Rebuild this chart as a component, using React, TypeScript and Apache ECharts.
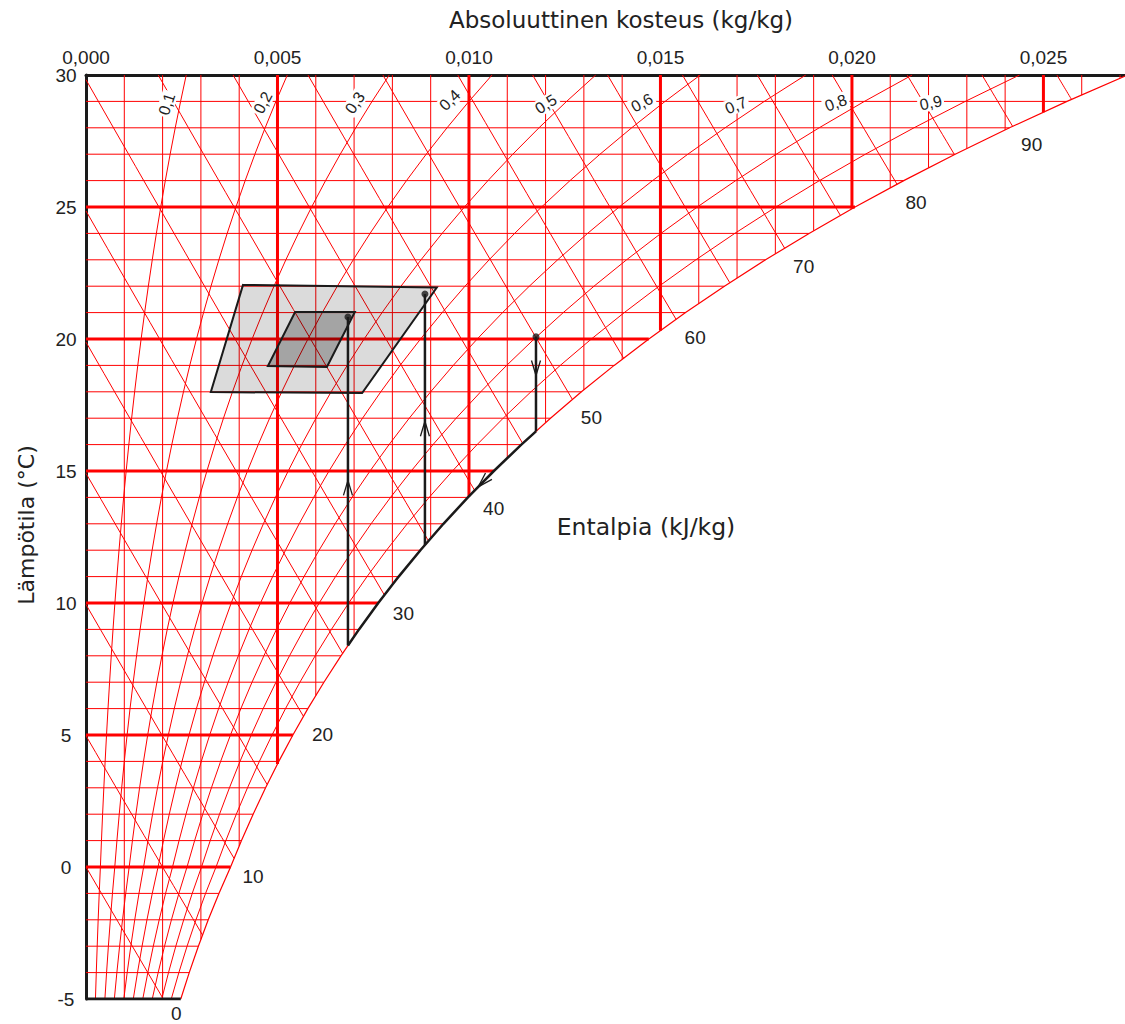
import React, { useEffect, useRef } from "react";
import * as echarts from "echarts";

// ---------- data ----------
const PRESSURE_KPA = 101.325;
const SAT_TEMPS = [-5, -4, -3, -2, -1, 0, 1, 2, 3, 4, 5, 6, 7, 8, 9, 10, 11, 12, 13, 14, 15, 16, 17, 18, 19, 20, 21, 22, 23, 24, 25, 26, 27, 28, 29, 30];
const SAT_PRESSURES = [0.4015, 0.4372, 0.4757, 0.5173, 0.5623, 0.6112, 0.6571, 0.706, 0.7581, 0.8135, 0.8725, 0.935, 1.002, 1.0729, 1.1481, 1.228, 1.3128, 1.4027, 1.4979, 1.5988, 1.7056, 1.8185, 1.938, 2.0644, 2.1978, 2.3388, 2.4877, 2.6447, 2.8104, 2.985, 3.169, 3.3629, 3.567, 3.7818, 4.0078, 4.2455];

const TEMP_GRID = [-4, -3, -2, -1, 0, 1, 2, 3, 4, 5, 6, 7, 8, 9, 10, 11, 12, 13, 14, 15, 16, 17, 18, 19, 20, 21, 22, 23, 24, 25, 26, 27, 28, 29];
const TEMP_BOLD = [0, 5, 10, 15, 20, 25];
const HUMIDITY_GRID = [0.001, 0.002, 0.003, 0.004, 0.005, 0.006, 0.007, 0.008, 0.009, 0.01, 0.011, 0.012, 0.013, 0.014, 0.015, 0.016, 0.017, 0.018, 0.019, 0.02, 0.021, 0.022, 0.023, 0.024, 0.025, 0.026, 0.027];
const HUMIDITY_BOLD = [0.005, 0.01, 0.015, 0.02, 0.025];
const ENTHALPY_LINES = [0, 5, 10, 15, 20, 25, 30, 35, 40, 45, 50, 55, 60, 65, 70, 75, 80, 85, 90, 95];
const ENTHALPY_LABELS = [0, 10, 20, 30, 40, 50, 60, 70, 80, 90];
const RH_LINES = [0.1, 0.2, 0.3, 0.4, 0.5, 0.6, 0.7, 0.8, 0.9];
const RH_LABEL_TEXT = ["0,1", "0,2", "0,3", "0,4", "0,5", "0,6", "0,7", "0,8", "0,9"];
const RH_LABEL_X = [0.00211, 0.00462, 0.00702, 0.0095, 0.01201, 0.01452, 0.01697, 0.01958, 0.02206];
const RH_LABEL_T = [28.9, 28.95, 28.95, 29.05, 28.9, 28.95, 28.85, 28.95, 28.95];

const OUTER_ZONE = [[0.0041, 22.05], [0.00916, 21.95], [0.00721, 17.95], [0.00326, 17.99]];
const INNER_ZONE = [[0.00546, 21.02], [0.00702, 21.02], [0.00629, 18.94], [0.00475, 18.98]];
const PROCESS_POINTS = [[0.00684, 20.83], [0.00885, 21.7], [0.01175, 20.08]];

const ARROW_X = [0.00684, 0.00885, 0.01175, NaN];
const ARROW_T = [14.36, 16.6, 18.9, 14.6];
const ARROW_DIR = [1, 1, -1, -1];
const ARROW_ON = ["v", "v", "v", "sat"];

// ---------- styling ----------
const RED = "#ff0000";
const INK = "#1a1a1a";
const TEXT = "#222222";
const RH_LABEL_ROT = [72, 62, 56, 45, 33, 28, 22, 20, 12];

// ---------- helpers ----------
const humidity = (pv: number) => (0.622 * pv) / (PRESSURE_KPA - pv);
const SAT_X = SAT_PRESSURES.map(humidity);

function satTemp(x: number): number {
  if (x <= SAT_X[0]) return SAT_TEMPS[0];
  for (let i = 0; i < SAT_X.length - 1; i++) {
    if (x <= SAT_X[i + 1]) {
      const f = (x - SAT_X[i]) / (SAT_X[i + 1] - SAT_X[i]);
      return SAT_TEMPS[i] + f * (SAT_TEMPS[i + 1] - SAT_TEMPS[i]);
    }
  }
  const n = SAT_X.length - 1;
  return SAT_TEMPS[n] + (x - SAT_X[n]) / (SAT_X[n] - SAT_X[n - 1]);
}

function satHumidityAt(t: number): number {
  const i = Math.max(0, Math.min(SAT_TEMPS.length - 2, Math.floor(t - SAT_TEMPS[0])));
  const f = (t - SAT_TEMPS[i]) / (SAT_TEMPS[i + 1] - SAT_TEMPS[i]);
  return SAT_X[i] + f * (SAT_X[i + 1] - SAT_X[i]);
}

const tOnEnthalpy = (h: number, x: number) => (h - 2501 * x) / (1.006 + 1.86 * x);

function enthalpyLine(h: number): number[][] {
  let x0 = 0;
  let t0 = tOnEnthalpy(h, 0);
  if (t0 > 30) {
    x0 = (h - 1.006 * 30) / (2501 + 1.86 * 30);
    t0 = 30;
  }
  const g = (x: number) => tOnEnthalpy(h, x) - Math.max(satTemp(x), -5);
  let lo = x0;
  let hi = 0.03;
  for (let k = 0; k < 60; k++) {
    const mid = (lo + hi) / 2;
    if (g(mid) > 0) lo = mid;
    else hi = mid;
  }
  const pts: number[][] = [];
  const n = 12;
  for (let i = 0; i <= n; i++) {
    const x = x0 + ((lo - x0) * i) / n;
    pts.push([x, i === 0 ? t0 : tOnEnthalpy(h, x)]);
  }
  return pts;
}

function buildOption() {
  const series: any[] = [];
  const addLine = (data: number[][], color: string, width: number, z: number) =>
    series.push({
      type: "line",
      data,
      symbol: "none",
      showSymbol: false,
      silent: true,
      z,
      lineStyle: { color, width },
      animation: false,
    });

  // temperature lines
  TEMP_GRID.forEach((t) => {
    const bold = TEMP_BOLD.includes(t);
    addLine([[0, t], [satHumidityAt(t), t]], RED, bold ? 3 : 1, bold ? 3 : 2);
  });
  // humidity lines
  HUMIDITY_GRID.forEach((x) => {
    const bold = HUMIDITY_BOLD.some((b) => Math.abs(b - x) < 1e-9);
    addLine([[x, Math.max(satTemp(x), -5)], [x, 30]], RED, bold ? 3 : 1, bold ? 3 : 2);
  });
  // enthalpy lines
  ENTHALPY_LINES.forEach((h) => addLine(enthalpyLine(h), RED, 1, 2));
  // RH curves
  RH_LINES.forEach((phi) =>
    addLine(SAT_TEMPS.map((T, i) => [humidity(phi * SAT_PRESSURES[i]), T]), RED, 1, 2)
  );
  // saturation curve
  addLine(SAT_TEMPS.map((T, i) => [SAT_X[i], T]), RED, 1.2, 2);

  // bottom edge
  addLine([[0, -5], [SAT_X[0], -5]], INK, 3, 6);

  // process lines
  PROCESS_POINTS.forEach(([x, t]) => addLine([[x, satTemp(x)], [x, t]], INK, 2.5, 6));
  const xa = PROCESS_POINTS[0][0];
  const xb = PROCESS_POINTS[2][0];
  const ta = satTemp(xa);
  const tb = satTemp(xb);
  const segment: number[][] = [[xa, ta]];
  SAT_TEMPS.forEach((T, i) => {
    if (T > ta && T < tb) segment.push([SAT_X[i], T]);
  });
  segment.push([xb, tb]);
  addLine(segment, INK, 2.5, 6);

  // zones
  const zones = [OUTER_ZONE, INNER_ZONE];
  const zoneFill = ["rgba(0,0,0,0.14)", "rgba(0,0,0,0.25)"];
  series.push({
    type: "custom",
    z: 5,
    silent: true,
    clip: false,
    data: zones.map((zn) => zn[0]),
    renderItem: (params: any, api: any) => {
      const zn = zones[params.dataIndex];
      return {
        type: "polygon",
        shape: { points: zn.map((p) => api.coord(p)) },
        style: { fill: zoneFill[params.dataIndex], stroke: INK, lineWidth: 2 },
      };
    },
  });

  // dots
  series.push({
    type: "scatter",
    data: PROCESS_POINTS,
    symbol: "circle",
    symbolSize: 7,
    itemStyle: { color: INK },
    silent: true,
    z: 8,
  });

  // arrows
  const arrowPos = ARROW_T.map((t, i) => [ARROW_ON[i] === "sat" ? satHumidityAt(t) : ARROW_X[i], t]);
  series.push({
    type: "custom",
    z: 8,
    silent: true,
    clip: false,
    data: arrowPos,
    renderItem: (params: any, api: any) => {
      const i = params.dataIndex;
      const [x, t] = arrowPos[i];
      const c = api.coord([x, t]);
      const t2 = t + ARROW_DIR[i] * 0.5;
      const c2 = ARROW_ON[i] === "sat" ? api.coord([satHumidityAt(t2), t2]) : api.coord([x, t2]);
      let ux = c2[0] - c[0];
      let uy = c2[1] - c[1];
      const len = Math.hypot(ux, uy) || 1;
      ux /= len;
      uy /= len;
      const px = -uy;
      const py = ux;
      const tip = [c[0] + ux * 7.5, c[1] + uy * 7.5];
      const bx = c[0] - ux * 7.5;
      const by = c[1] - uy * 7.5;
      return {
        type: "polyline",
        shape: { points: [[bx + px * 4.5, by + py * 4.5], tip, [bx - px * 4.5, by - py * 4.5]] },
        style: { stroke: INK, lineWidth: 1.3, fill: "none" },
      };
    },
  });

  // labels
  type Spec = { pos: number[]; text: string; dx: number; dy: number; rot: number; size: number; bg?: string };
  const specs: Spec[] = [];
  ENTHALPY_LABELS.forEach((h) => {
    const pts = enthalpyLine(h);
    const atBottom = h === 0;
    specs.push({
      pos: pts[pts.length - 1],
      text: String(h),
      dx: atBottom ? 13 : 19,
      dy: atBottom ? 14 : 18,
      rot: 0,
      size: 19,
    });
  });
  RH_LABEL_TEXT.forEach((txt, i) => {
    specs.push({ pos: [RH_LABEL_X[i], RH_LABEL_T[i]], text: txt, dx: 0, dy: 0, rot: RH_LABEL_ROT[i], size: 16, bg: "#ffffff" });
  });
  series.push({
    type: "custom",
    z: 9,
    silent: true,
    clip: false,
    data: specs.map((s) => s.pos),
    renderItem: (params: any, api: any) => {
      const s = specs[params.dataIndex];
      const c = api.coord(s.pos);
      return {
        type: "text",
        x: c[0] + s.dx,
        y: c[1] + s.dy,
        rotation: (s.rot * Math.PI) / 180,
        style: {
          text: s.text,
          fill: TEXT,
          fontSize: s.size,
          fontFamily: "Liberation Sans",
          lineHeight: s.size,
          align: "center",
          verticalAlign: "middle",
          textAlign: "center",
          textVerticalAlign: "middle",
          backgroundColor: s.bg || "transparent",
          padding: s.bg ? [0, 2, 0, 2] : 0,
        },
      };
    },
  });

  const titleStyle = {
    fontFamily: "DejaVu Sans",
    fill: TEXT,
    align: "center",
    verticalAlign: "middle",
    textAlign: "center",
    textVerticalAlign: "middle",
  };

  return {
    animation: false,
    backgroundColor: "#ffffff",
    grid: { left: 86, top: 75, right: 0, bottom: 25, containLabel: false, outerBoundsMode: "none" },
    xAxis: {
      type: "value",
      position: "top",
      min: 0,
      max: 0.02713,
      interval: 0.005,
      axisLine: { show: true, onZero: false, lineStyle: { color: INK, width: 3 } },
      axisTick: { show: false },
      splitLine: { show: false },
      axisLabel: {
        formatter: (v: number) => v.toFixed(3).replace(".", ","),
        fontSize: 19,
        lineHeight: 16,
        fontFamily: "Liberation Sans",
        color: TEXT,
        margin: 10,
        showMaxLabel: false,
      },
    },
    yAxis: {
      type: "value",
      min: -5,
      max: 30,
      interval: 5,
      axisLine: { show: true, onZero: false, lineStyle: { color: INK, width: 3 } },
      axisTick: { show: false },
      splitLine: { show: false },
      axisLabel: {
        fontSize: 19,
        lineHeight: 16,
        fontFamily: "Liberation Sans",
        color: TEXT,
        align: "center",
        margin: 20,
      },
    },
    graphic: [
      { type: "text", x: 621, y: 20, silent: true, style: { ...titleStyle, fontSize: 23, text: "Absoluuttinen kosteus (kg/kg)" } },
      { type: "text", x: 646, y: 527, silent: true, style: { ...titleStyle, fontSize: 23.5, text: "Entalpia (kJ/kg)" } },
      { type: "text", x: 26, y: 525, rotation: Math.PI / 2, silent: true, style: { ...titleStyle, fontSize: 22, text: "Lämpötila (°C)" } },
    ],
    series,
  };
}

export default function App() {
  const ref = useRef<HTMLDivElement>(null);
  useEffect(() => {
    if (!ref.current) return;
    const chart = echarts.init(ref.current, null, { renderer: "svg" });
    chart.setOption(buildOption() as any);
    return () => chart.dispose();
  }, []);
  return (
    <div
      ref={ref}
      style={{ position: "fixed", left: 0, top: 0, width: 1125, height: 1024, background: "#ffffff" }}
    />
  );
}
